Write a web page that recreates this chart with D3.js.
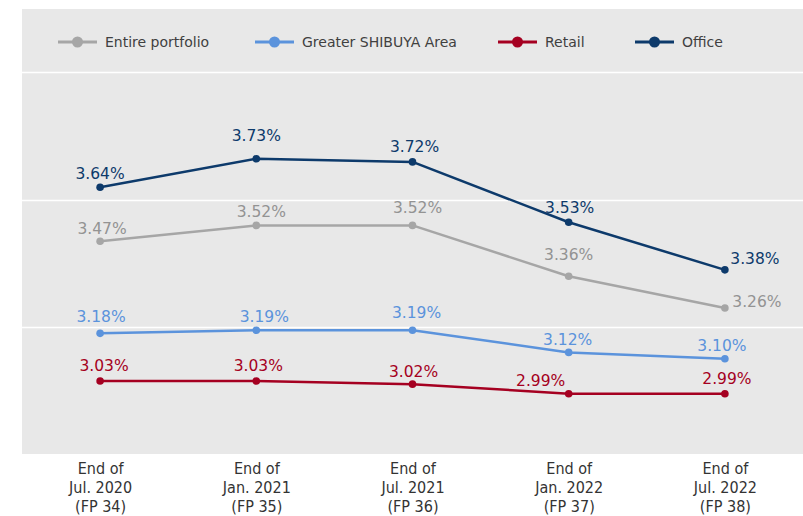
<!DOCTYPE html>
<html><head><meta charset="utf-8">
<script src="https://cdn.jsdelivr.net/npm/d3@7"></script>
<style>body{margin:0;background:#fff}svg{display:block}</style>
</head><body>
<svg id="c" width="803" height="516"></svg>
<script>
// ---- data ----
const categories = ["End of\nJul. 2020\n(FP 34)", "End of\nJan. 2021\n(FP 35)", "End of\nJul. 2021\n(FP 36)", "End of\nJan. 2022\n(FP 37)", "End of\nJul. 2022\n(FP 38)"];
const seriesNames = ["Entire portfolio", "Greater SHIBUYA Area", "Retail", "Office"];
const entirePortfolio = [3.47, 3.52, 3.52, 3.36, 3.26];
const greaterShibuya = [3.18, 3.19, 3.19, 3.12, 3.10];
const retail = [3.03, 3.03, 3.02, 2.99, 2.99];
const office = [3.64, 3.73, 3.72, 3.53, 3.38];
const yTicks = [3.2, 3.6];

// ---- styling / layout ----
const colors = ["#a6a6a6", "#5b93dc", "#a50021", "#0d3a6b"];
const labelColors = ["#939393", "#5b93dc", "#a50021", "#0d3a6b"];
const labelOffsets = [
  [[2,-13],[5,-14],[5,-18],[0,-22],[32,-6]],
  [[1,-17],[8,-14],[4,-18],[-1,-13],[-3,-13]],
  [[4,-15],[2,-15],[1,-13],[-28,-13],[2,-15]],
  [[0,-14],[0,-23],[2,-15],[1,-15],[30,-11]]
];
const seriesData = [entirePortfolio, greaterShibuya, retail, office];

const svg = d3.select("#c");
const L = 22, R = 803, T = 73, B = 454;

svg.append("rect").attr("x", L).attr("y", 9).attr("width", R - L).attr("height", B - 9).attr("fill", "#e8e8e8");
svg.append("line").attr("x1", L).attr("x2", R).attr("y1", 72.5).attr("y2", 72.5).attr("stroke", "#fff").attr("stroke-width", 1.5);

const x = d3.scalePoint().domain(categories).range([L, R]).padding(0.5);
const y = d3.scaleLinear().domain([2.8, 4.0]).range([B, T]);

// gridlines
svg.append("g").selectAll("line").data(yTicks).join("line")
  .attr("x1", L).attr("x2", R)
  .attr("y1", d => Math.round(y(d)) + 0.5).attr("y2", d => Math.round(y(d)) + 0.5)
  .attr("stroke", "#fff").attr("stroke-width", 1.5);

// x axis labels
const xAxis = svg.append("g").attr("transform", `translate(0,${B})`)
  .call(d3.axisBottom(x).tickSize(0).tickFormat(""));
xAxis.select(".domain").remove();
xAxis.selectAll(".tick").each(function(d) {
  const t = d3.select(this).append("text")
    .attr("fill", "#333").attr("text-anchor", "middle")
    .style("font-family", "'DejaVu Sans Condensed', 'DejaVu Sans', sans-serif")
    .style("font-size", "16px");
  d.split("\n").forEach((s, i) => {
    t.append("tspan").attr("x", 0).attr("y", 20 + i * 19).text(s);
  });
});

// lines
const line = d3.line().x((d, i) => x(categories[i])).y(d => y(d));
seriesData.forEach((vals, si) => {
  const g = svg.append("g");
  g.append("path").datum(vals).attr("d", line).attr("fill", "none")
    .attr("stroke", colors[si]).attr("stroke-width", 2.5).attr("stroke-linejoin", "round");
  g.selectAll("circle").data(vals).join("circle")
    .attr("cx", (d, i) => x(categories[i])).attr("cy", d => y(d)).attr("r", 3.8)
    .attr("fill", colors[si]);
  g.selectAll("text").data(vals).join("text")
    .attr("x", (d, i) => x(categories[i]) + labelOffsets[si][i][0])
    .attr("y", (d, i) => y(d) + labelOffsets[si][i][1])
    .attr("dy", "0.35em").attr("text-anchor", "middle")
    .attr("fill", labelColors[si])
    .style("font-family", "'DejaVu Sans', Verdana, sans-serif").style("font-size", "15.5px")
    .text(d => d.toFixed(2) + "%");
});

// legend
const legendX = [58, 255, 498, 635];
const lg = svg.append("g").selectAll("g").data(seriesNames).join("g")
  .attr("transform", (d, i) => `translate(${legendX[i]},42)`);
lg.append("line").attr("x1", 0).attr("x2", 39).attr("stroke", (d, i) => colors[i]).attr("stroke-width", 3);
lg.append("circle").attr("cx", 19.5).attr("r", 5.5).attr("fill", (d, i) => colors[i]);
lg.append("text").attr("x", 47).attr("dy", "0.35em").attr("fill", "#404040")
  .style("font-family", "'DejaVu Sans', Verdana, sans-serif").style("font-size", "14px")
  .text(d => d);
</script>
</body></html>
